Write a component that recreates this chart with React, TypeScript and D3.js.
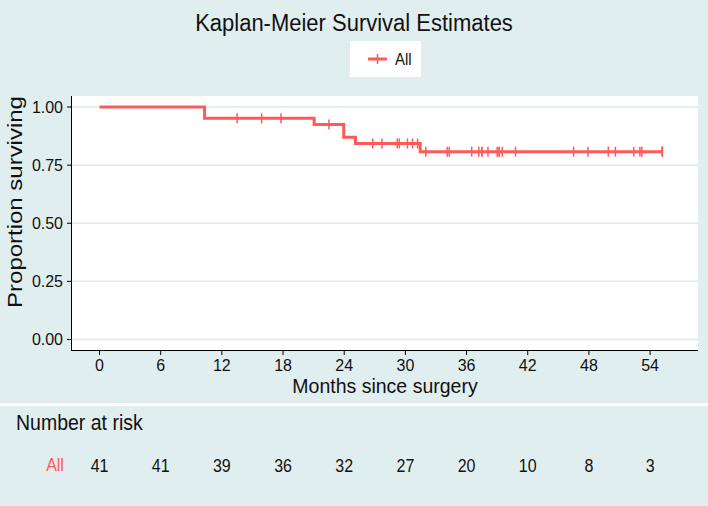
import React from "react";
import * as d3 from "d3";

const title = "Kaplan-Meier Survival Estimates";
const seriesName = "All";
const xTicks = [0, 6, 12, 18, 24, 30, 36, 42, 48, 54];
const yTicks = [0, 0.25, 0.5, 0.75, 1.0];
const atRisk = [41, 41, 39, 36, 32, 27, 20, 10, 8, 3];
// step times (months) and survival after each step
const stepTimes = [0, 10.3, 21.05, 23.95, 25.1, 31.45];
const survival = [1.0, 0.9512, 0.9248, 0.8704, 0.8432, 0.8081];
const lastTime = 55.2;
const censorTimes = [
  13.5, 15.9, 17.8, 22.5, 26.8, 27.7, 29.2, 29.4, 30.2, 30.7, 31.2, 32.0, 34.1,
  34.3, 36.5, 37.2, 37.5, 37.5, 38.1, 39.0, 39.2, 39.2, 39.5, 40.8, 46.5, 47.9,
  49.9, 50.6, 52.4, 53.0, 53.2, 55.2, 55.2, 55.2,
];

const W = 708;
const H = 506;
const BG = "#E1EEF0";
const GRID = "#DDEBEF";
const RED = "#FF5A5A";
const FONT = "'Liberation Sans', Arial, Helvetica, sans-serif";

const P = { left: 72, right: 698, top: 96, bottom: 350.5 };

export default function App() {
  const x = d3.scaleLinear().domain([-2.7, 58.7]).range([P.left, P.right]);
  const y = d3
    .scaleLinear()
    .domain([-0.0474, 1.0474])
    .range([P.bottom, P.top]);

  const pts: [number, number][] = stepTimes.map((t, i) => [t, survival[i]]);
  pts.push([lastTime, survival[survival.length - 1]]);
  const line = d3
    .line<[number, number]>()
    .x((d) => x(d[0]))
    .y((d) => y(d[1]))
    .curve(d3.curveStepAfter);

  const survAt = (t: number) => {
    let s = survival[0];
    stepTimes.forEach((st, i) => {
      if (st <= t) s = survival[i];
    });
    return s;
  };

  return (
    <svg
      width={W}
      height={H}
      style={{ position: "absolute", left: 0, top: 0, display: "block" }}
      fontFamily={FONT}
    >
      <rect x={0} y={0} width={W} height={H} fill="#ffffff" />
      <rect x={0} y={0} width={W} height={403} fill={BG} />
      <rect x={0} y={406} width={W} height={H - 406} fill={BG} />

      {/* title */}
      <text
        transform="translate(354,31) scale(1,1.12)"
        textAnchor="middle"
        fontSize={22}
        fill="#111"
      >
        {title}
      </text>

      {/* legend */}
      <rect x={350} y={41} width={71} height={36} fill="#fff" />
      <line x1={368} x2={387} y1={59} y2={59} stroke={RED} strokeWidth={3} />
      <line x1={377.5} x2={377.5} y1={54} y2={64} stroke={RED} strokeWidth={1.5} />
      <text transform="translate(395,65) scale(1,1.12)" fontSize={15} fill="#111">
        {seriesName}
      </text>

      {/* plot region */}
      <rect
        x={P.left}
        y={P.top}
        width={P.right - P.left}
        height={P.bottom - P.top}
        fill="#fff"
      />
      {yTicks.map((v) => (
        <line
          key={"g" + v}
          x1={P.left}
          x2={P.right}
          y1={y(v)}
          y2={y(v)}
          stroke={GRID}
          strokeWidth={1.5}
        />
      ))}

      {/* survival curve */}
      <path
        d={line(pts) || ""}
        fill="none"
        stroke={RED}
        strokeWidth={3}
        strokeLinejoin="miter"
      />
      {censorTimes.map((t, i) => (
        <line
          key={"c" + i}
          x1={x(t)}
          x2={x(t)}
          y1={y(survAt(t)) - 5}
          y2={y(survAt(t)) + 5}
          stroke={RED}
          strokeWidth={1.5}
        />
      ))}

      {/* axes */}
      <line x1={P.left - 0.5} x2={P.left - 0.5} y1={P.top} y2={P.bottom} stroke="#000" strokeWidth={1} />
      <line x1={P.left - 1} x2={P.right} y1={P.bottom} y2={P.bottom} stroke="#000" strokeWidth={1} />
      {yTicks.map((v) => (
        <g key={"yt" + v}>
          <line x1={P.left - 5} x2={P.left - 0.5} y1={y(v)} y2={y(v)} stroke="#000" strokeWidth={1} />
          <text
            transform={`translate(${P.left - 9},${y(v) + 6}) scale(1,1.08)`}
            textAnchor="end"
            fontSize={16}
            fill="#111"
          >
            {d3.format(".2f")(v)}
          </text>
        </g>
      ))}
      {xTicks.map((t) => (
        <g key={"xt" + t}>
          <line x1={x(t)} x2={x(t)} y1={P.bottom} y2={P.bottom + 4.5} stroke="#000" strokeWidth={1} />
          <text x={x(t)} y={370.5} textAnchor="middle" fontSize={16} fill="#111">
            {t}
          </text>
        </g>
      ))}
      <text
        x={(P.left + P.right) / 2}
        y={393}
        textAnchor="middle"
        fontSize={19.5}
        fill="#111"
      >
        Months since surgery
      </text>
      <text
        transform={`translate(22,202) rotate(-90) scale(1.23,1)`}
        textAnchor="middle"
        fontSize={19.5}
        fill="#111"
      >
        Proportion surviving
      </text>

      {/* risk table */}
      <text transform="translate(16,430) scale(1,1.1)" fontSize={19.5} fill="#111">
        Number at risk
      </text>
      <text
        transform="translate(55,471) scale(1,1.1)"
        textAnchor="middle"
        fontSize={16}
        fill={RED}
      >
        {seriesName}
      </text>
      {atRisk.map((n, i) => (
        <text
          key={"r" + i}
          transform={`translate(${x(xTicks[i])},472) scale(1,1.1)`}
          textAnchor="middle"
          fontSize={16}
          fill="#111"
        >
          {n}
        </text>
      ))}
    </svg>
  );
}
